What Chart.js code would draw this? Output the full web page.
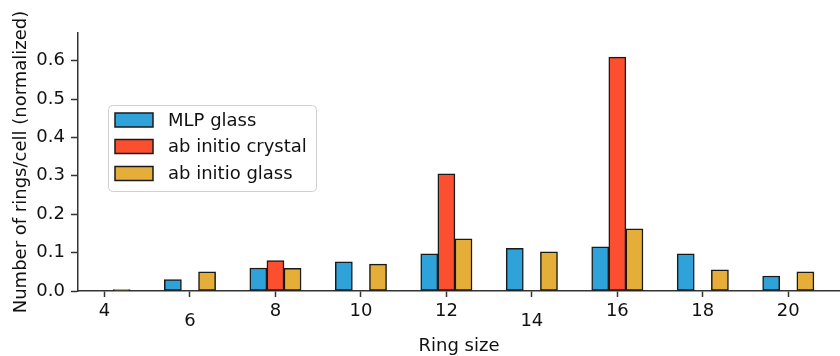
<!DOCTYPE html>
<html>
<head>
<meta charset="utf-8">
<script src="https://cdn.jsdelivr.net/npm/chart.js@4/dist/chart.umd.min.js"></script>
<style>
  html, body { margin: 0; padding: 0; background: #ffffff; }
  #wrap { width: 840px; height: 356px; position: relative; }
</style>
</head>
<body>
<div id="wrap"><canvas id="chart"></canvas></div>
<script>
// Ring-size statistics (rings per cell, normalized)
const ringSizes = [4, 6, 8, 10, 12, 14, 16, 18, 20];
const mlpGlass        = [0,     0.030, 0.060, 0.076, 0.097, 0.111, 0.115, 0.097, 0.039];
const abInitioCrystal = [null,  null,  0.079, null,  0.305, null,  0.609, null,  null];
const abInitioGlass   = [0.004, 0.050, 0.059, 0.070, 0.136, 0.102, 0.162, 0.055, 0.050];
const yTickValues = [0, 0.1, 0.2, 0.3, 0.4, 0.5, 0.6];
const seriesNames = ['MLP glass', 'ab initio crystal', 'ab initio glass'];
// tick labels printed a little lower than the rest
const loweredTicks = [6, 14];

const FONT = 'DejaVu Sans';
const INK = '#111111';
const EDGE = '#1a1a1a';
const COLORS = ['#30a2da', '#fc4f30', '#e5ae38'];
const SHIFT = [-0.4, 0, 0.4];

function toPoints(values, shift) {
  const pts = [];
  values.forEach((v, i) => {
    if (v !== null) pts.push({ x: ringSizes[i] + shift, y: v });
  });
  return pts;
}

const datasets = [mlpGlass, abInitioCrystal, abInitioGlass].map((vals, k) => ({
  label: seriesNames[k],
  data: toPoints(vals, SHIFT[k]),
  backgroundColor: COLORS[k],
  borderColor: EDGE,
  borderWidth: 1.5,
  borderSkipped: false,
  grouped: false,
  categoryPercentage: 1.0,
  barPercentage: 1.0
}));

// Boxed legend drawn inside the plot area
const boxLegend = {
  id: 'boxLegend',
  afterDatasetsDraw(chart) {
    const ctx = chart.ctx;
    const x0 = 108, y0 = 105, w = 208, h = 86;
    ctx.save();
    ctx.beginPath();
    ctx.roundRect(x0 + 0.5, y0 + 0.5, w, h, 4);
    ctx.fillStyle = 'rgba(255,255,255,0.85)';
    ctx.fill();
    ctx.strokeStyle = '#d0d0d0';
    ctx.lineWidth = 1;
    ctx.stroke();
    const rows = [120, 146.5, 173.5];
    chart.data.datasets.forEach((ds, i) => {
      const cy = rows[i];
      ctx.fillStyle = ds.backgroundColor;
      ctx.fillRect(115, cy - 7, 38, 14);
      ctx.strokeStyle = EDGE;
      ctx.lineWidth = 1.5;
      ctx.strokeRect(115, cy - 7, 38, 14);
      ctx.fillStyle = INK;
      ctx.font = '18px "' + FONT + '"';
      ctx.textBaseline = 'middle';
      ctx.textAlign = 'left';
      ctx.fillText(ds.label, 168, cy + 1);
    });
    ctx.restore();
  }
};

new Chart(document.getElementById('chart'), {
  type: 'bar',
  data: { datasets },
  options: {
    responsive: true,
    maintainAspectRatio: false,
    animation: false,
    devicePixelRatio: 1,
    layout: { padding: { top: 33, right: 0, bottom: 0, left: 0 } },
    plugins: {
      legend: { display: false },
      tooltip: { enabled: false }
    },
    scales: {
      x: {
        type: 'linear',
        offset: false,
        min: 3.38,
        max: 21.21,
        afterBuildTicks: (scale) => { scale.ticks = ringSizes.map(v => ({ value: v })); },
        afterFit: (scale) => { scale.height = 65; },
        border: { display: true, color: '#333333', width: 1.5 },
        grid: { display: true, offset: false, drawOnChartArea: false, drawTicks: true, tickLength: 6, tickColor: '#333333', tickWidth: 1.5 },
        ticks: {
          padding: 4,
          color: INK,
          maxRotation: 0,
          autoSkip: false,
          font: (c) => ({
            family: FONT,
            size: 18,
            lineHeight: (c.tick && loweredTicks.includes(c.tick.value)) ? 0.77 : 1.2
          }),
          callback: (v) => loweredTicks.includes(v) ? ['', String(v)] : String(v)
        },
        title: {
          display: true,
          text: 'Ring size',
          color: INK,
          font: { family: FONT, size: 18, lineHeight: 1.1 },
          padding: { top: 0, bottom: 0 }
        }
      },
      y: {
        type: 'linear',
        min: 0,
        max: 0.672,
        afterBuildTicks: (scale) => { scale.ticks = yTickValues.map(v => ({ value: v })); },
        afterFit: (scale) => { scale.width = 78; },
        border: { display: true, color: '#333333', width: 1.5 },
        grid: { display: true, drawOnChartArea: false, drawTicks: true, tickLength: 7, tickColor: '#333333', tickWidth: 1.5 },
        ticks: {
          padding: 6,
          color: INK,
          font: { family: FONT, size: 18 },
          callback: (v) => Number(v).toFixed(1)
        },
        title: {
          display: true,
          text: 'Number of rings/cell (normalized)',
          color: INK,
          font: { family: FONT, size: 18, lineHeight: 1.2 },
          padding: { top: 11, bottom: 0 }
        }
      }
    }
  },
  plugins: [boxLegend]
});
</script>
</body>
</html>
